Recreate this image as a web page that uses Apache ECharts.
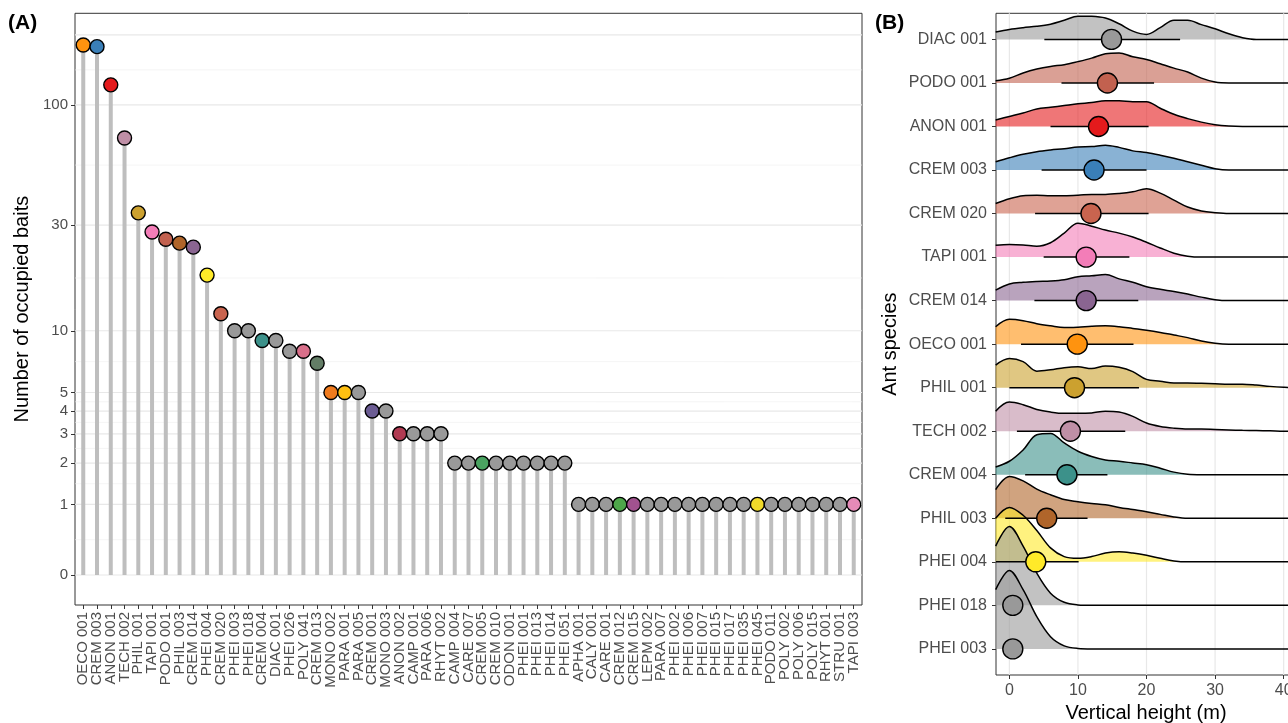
<!DOCTYPE html>
<html>
<head>
<meta charset="utf-8">
<script src="https://cdn.jsdelivr.net/npm/echarts@6/dist/echarts.min.js"></script>
<style>
html, body { margin: 0; padding: 0; background: #fff; }
#chart { width: 1288px; height: 723px; }
</style>
</head>
<body>
<div id="chart"></div>
<script>
// ---- panel A : occupied baits per species ----
const speciesA = ['OECO 001', 'CREM 003', 'ANON 001', 'TECH 002', 'PHIL 001', 'TAPI 001', 'PODO 001', 'PHIL 003',
  'CREM 014', 'PHEI 004', 'CREM 020', 'PHEI 003', 'PHEI 018', 'CREM 004', 'DIAC 001', 'PHEI 026', 'POLY 041',
  'CREM 013', 'MONO 002', 'PARA 001', 'PARA 005', 'CREM 001', 'MONO 003', 'ANON 002', 'CAMP 001', 'PARA 006',
  'RHYT 002', 'CAMP 004', 'CARE 007', 'CREM 005', 'CREM 010', 'ODON 001', 'PHEI 001', 'PHEI 013', 'PHEI 014',
  'PHEI 051', 'APHA 001', 'CALY 001', 'CARE 001', 'CREM 012', 'CREM 015', 'LEPM 002', 'PARA 007', 'PHEI 002',
  'PHEI 006', 'PHEI 007', 'PHEI 015', 'PHEI 017', 'PHEI 035', 'PHEI 045', 'PODO 011', 'POLY 002', 'POLY 006',
  'POLY 015', 'RHYT 001', 'STRU 001', 'TAPI 003']
const baitCounts = [181, 178, 122, 72, 34, 28, 26, 25, 24, 18, 12, 10, 10, 9, 9, 8, 8, 7, 5, 5, 5, 4, 4, 3, 3, 3, 3,
  2, 2, 2, 2, 2, 2, 2, 2, 2,
  1, 1, 1, 1, 1, 1, 1, 1, 1, 1, 1, 1, 1, 1, 1, 1, 1, 1, 1, 1, 1]
const countBreaks = [0, 1, 2, 3, 4, 5, 10, 30, 100]
const countGrid = [0, 1, 2, 3, 4, 5, 10, 30, 100, 200]

const G = '#999999'
const colorsA = ['#FF930F', '#3A7FB8', '#E41A1C', '#BF8FA6', '#CCA12F', '#F37DB8', '#C2614F', '#B0652A',
  '#8A6591', '#FFEA29', '#C9644F', G, G, '#3C918A', G, G, '#D96F8A',
  '#637D66', '#F07B1E', '#FFC012', G, '#6B5C93', G, '#B03A52', G, G,
  G, G, G, '#4AA361', G, G, G, G, G,
  G, G, G, G, '#4EA64A', '#A2528F', G, G, G,
  G, G, G, G, G, '#F0DA2A', G, G, G,
  G, G, G, '#E58BB8']

// ---- panel B : vertical height distribution (top row first) ----
const speciesB = ['DIAC 001', 'PODO 001', 'ANON 001', 'CREM 003', 'CREM 020', 'TAPI 001', 'CREM 014', 'OECO 001',
  'PHIL 001', 'TECH 002', 'CREM 004', 'PHIL 003', 'PHEI 004', 'PHEI 018', 'PHEI 003']
const heightGrid = [-2, 0, 2, 4, 6, 8, 10, 12, 14, 16, 18, 20, 22, 24, 26, 28, 30, 32, 34, 36, 38, 40, 42, 44]
const ridgeHeights = [
  [0.17, 0.23, 0.27, 0.30, 0.35, 0.44, 0.535, 0.53, 0.49, 0.36, 0.19, 0.115, 0.27, 0.44, 0.44, 0.34, 0.245, 0.13, 0.04, 0, 0, 0, 0, 0], // DIAC 001
  [0.05, 0.11, 0.23, 0.32, 0.38, 0.42, 0.49, 0.57, 0.67, 0.69, 0.60, 0.54, 0.44, 0.34, 0.25, 0.11, 0.02, 0, 0, 0, 0, 0, 0, 0], // PODO 001
  [0.15, 0.23, 0.31, 0.40, 0.44, 0.48, 0.52, 0.55, 0.59, 0.59, 0.57, 0.57, 0.42, 0.28, 0.18, 0.10, 0.04, 0.01, 0, 0, 0, 0, 0, 0], // ANON 001
  [0.19, 0.28, 0.36, 0.42, 0.46, 0.49, 0.53, 0.54, 0.57, 0.52, 0.44, 0.40, 0.34, 0.27, 0.19, 0.11, 0.03, 0, 0, 0, 0, 0, 0, 0], // CREM 003
  [0.23, 0.34, 0.41, 0.42, 0.41, 0.41, 0.42, 0.44, 0.44, 0.46, 0.50, 0.57, 0.47, 0.31, 0.15, 0.06, 0.02, 0, 0, 0, 0, 0, 0, 0], // CREM 020
  [0.27, 0.29, 0.28, 0.25, 0.33, 0.55, 0.78, 0.71, 0.62, 0.55, 0.46, 0.34, 0.21, 0.09, 0.02, 0, 0, 0, 0, 0, 0, 0, 0, 0], // TAPI 001
  [0.24, 0.38, 0.42, 0.44, 0.45, 0.48, 0.55, 0.57, 0.60, 0.50, 0.42, 0.32, 0.26, 0.21, 0.15, 0.08, 0.02, 0, 0, 0, 0, 0, 0, 0], // CREM 014
  [0.40, 0.57, 0.54, 0.47, 0.42, 0.38, 0.39, 0.41, 0.42, 0.40, 0.36, 0.32, 0.27, 0.21, 0.15, 0.07, 0.02, 0, 0, 0, 0, 0, 0, 0], // OECO 001
  [0.52, 0.67, 0.60, 0.38, 0.41, 0.46, 0.48, 0.44, 0.50, 0.47, 0.37, 0.19, 0.15, 0.11, 0.11, 0.10, 0.09, 0.08, 0.08, 0.06, 0.03, 0.01, 0, 0], // PHIL 001
  [0.46, 0.67, 0.61, 0.50, 0.44, 0.41, 0.41, 0.42, 0.46, 0.44, 0.34, 0.19, 0.11, 0.07, 0.05, 0.05, 0.04, 0.03, 0.02, 0.015, 0.01, 0, 0, 0], // TECH 002
  [0.18, 0.31, 0.57, 0.92, 0.95, 0.73, 0.54, 0.42, 0.34, 0.31, 0.27, 0.23, 0.15, 0.06, 0.01, 0, 0, 0, 0, 0, 0, 0, 0, 0], // CREM 004
  [0.66, 0.96, 0.86, 0.67, 0.54, 0.43, 0.38, 0.34, 0.31, 0.25, 0.20, 0.15, 0.09, 0.03, 0, 0, 0, 0, 0, 0, 0, 0, 0, 0], // PHIL 003
  [1.00, 1.25, 1.07, 0.72, 0.32, 0.12, 0.08, 0.12, 0.20, 0.23, 0.20, 0.15, 0.08, 0.02, 0, 0, 0, 0, 0, 0, 0, 0, 0, 0], // PHEI 004
  [1.36, 1.81, 1.36, 0.74, 0.28, 0.07, 0.01, 0, 0, 0, 0, 0, 0, 0, 0, 0, 0, 0, 0, 0, 0, 0, 0, 0], // PHEI 018
  [1.36, 1.80, 1.36, 0.74, 0.28, 0.07, 0.01, 0, 0, 0, 0, 0, 0, 0, 0, 0, 0, 0, 0, 0, 0, 0, 0, 0] // PHEI 003
]
const meanHeight = [14.9, 14.3, 13.0, 12.35, 11.9, 11.2, 11.2, 9.9, 9.5, 8.9, 8.4, 5.45, 3.85, 0.5, 0.5]
const lowHeight = [5.1, 7.6, 6.0, 4.7, 3.75, 5.0, 3.65, 1.7, 0.0, 1.1, 2.3, -0.6, -2.5, 0.3, 0.3]
const highHeight = [24.9, 21.1, 20.3, 20.0, 20.3, 17.5, 18.8, 18.1, 18.9, 16.9, 14.3, 11.4, 10.1, 0.7, 0.7]
const heightBreaks = [0, 10, 20, 30, 40]
const colorsB = ['#999999', '#C2614F', '#E41A1C', '#3A7FB8', '#C9644F', '#F37DB8', '#8A6591', '#FF930F',
  '#CCA12F', '#BF8FA6', '#3C918A', '#B0652A', '#FFEA29', '#999999', '#999999']

const tr = v => Math.log10(v + 1)
const nRows = speciesB.length

const chart = echarts.init(document.getElementById('chart'))

// grey background lines, drawn by a custom series so they can sit at arbitrary values
function hLines (color, width) {
  return function (params, api) {
    const cs = params.coordSys
    const y = api.coord([0, api.value(1)])[1]
    return { type: 'line', shape: { x1: cs.x, y1: y, x2: cs.x + cs.width, y2: y }, style: { stroke: color, lineWidth: width } }
  }
}
function vLines (color, width) {
  return function (params, api) {
    const cs = params.coordSys
    const x = api.coord([api.value(0), 1])[0]
    return { type: 'line', shape: { x1: x, y1: cs.y, x2: x, y2: cs.y + cs.height }, style: { stroke: color, lineWidth: width } }
  }
}

const majorT = countGrid.map(tr)
const minorT = majorT.slice(1).map((v, i) => (v + majorT[i]) / 2)

const series = [
  { type: 'custom', xAxisIndex: 0, yAxisIndex: 0, silent: true, z: 0, renderItem: hLines('#EFEFEF', 0.6), data: minorT.map(v => [0, v]) },
  { type: 'custom', xAxisIndex: 0, yAxisIndex: 0, silent: true, z: 0, renderItem: hLines('#E8E8E8', 1.2), data: majorT.map(v => [0, v]) },
  {
    type: 'bar', xAxisIndex: 0, yAxisIndex: 0, barWidth: 4, z: 1,
    itemStyle: { color: '#BEBEBE' },
    data: baitCounts.map((c, i) => [i, tr(c)])
  },
  {
    type: 'scatter', xAxisIndex: 0, yAxisIndex: 0, symbolSize: 14, z: 2,
    itemStyle: { color: p => colorsA[p.dataIndex], borderColor: '#000', borderWidth: 1.4, opacity: 1 },
    data: baitCounts.map((c, i) => [i, tr(c)])
  },
  { type: 'custom', xAxisIndex: 1, yAxisIndex: 1, silent: true, z: 0, renderItem: vLines('#E8E8E8', 1.2), data: heightBreaks.map(v => [v, 1]) }
]

// ridges: top row first so lower rows are painted over
speciesB.forEach((name, r) => {
  const base = nRows - r
  series.push({
    type: 'line', name: name, xAxisIndex: 1, yAxisIndex: 1, z: 1,
    smooth: 0.35, symbol: 'none', silent: true,
    lineStyle: { color: '#000', width: 1.5 },
    areaStyle: { color: colorsB[r], opacity: 0.6, origin: base },
    data: heightGrid.map((x, k) => [x, base + ridgeHeights[r][k]])
  })
})

series.push({
  type: 'custom', xAxisIndex: 1, yAxisIndex: 1, z: 3, clip: true,
  renderItem: function (params, api) {
    const a = api.coord([api.value(0), api.value(2)])
    const b = api.coord([api.value(1), api.value(2)])
    return { type: 'line', shape: { x1: a[0], y1: a[1], x2: b[0], y2: b[1] }, style: { stroke: '#000', lineWidth: 1.5 } }
  },
  data: speciesB.map((s, r) => [lowHeight[r], highHeight[r], nRows - r])
})
series.push({
  type: 'scatter', xAxisIndex: 1, yAxisIndex: 1, symbolSize: 20, z: 4,
  itemStyle: { color: p => colorsB[p.dataIndex], borderColor: '#000', borderWidth: 1.4, opacity: 1 },
  data: speciesB.map((s, r) => [meanHeight[r], nRows - r])
})

const tickStyle = { show: true, length: 4, lineStyle: { color: '#333', width: 1 } }
const noLine = { show: false, onZero: false }
const labelColor = '#4D4D4D'

// panel A species names are split over two stacked axes (even / odd positions)
// so that neighbouring rotated labels never compete and none get dropped
const idxA = speciesA.map((s, i) => i)
function speciesAxis (parity, withTicks) {
  return {
    type: 'value', gridIndex: 0, min: -0.6, max: 56.6, position: 'bottom', offset: 0,
    axisLine: noLine, splitLine: { show: false },
    axisTick: withTicks ? Object.assign({ customValues: idxA }, tickStyle) : { show: false },
    axisLabel: {
      customValues: idxA.filter(i => i % 2 === parity),
      formatter: v => speciesA[Math.round(v)],
      rotate: 90, fontSize: 15, color: labelColor, margin: 7,
      showMinLabel: true, showMaxLabel: true, hideOverlap: false
    }
  }
}

chart.setOption({
  animation: false,
  textStyle: { fontFamily: 'Liberation Sans, Arial, sans-serif' },
  graphic: [
    { type: 'text', left: 8, top: 13, style: { text: '(A)', font: 'bold 21px Liberation Sans', fill: '#000' } },
    { type: 'text', left: 875, top: 13, style: { text: '(B)', font: 'bold 21px Liberation Sans', fill: '#000' } }
  ],
  grid: [
    { left: 75, top: 13.3, width: 787, height: 591.7, show: true, borderColor: '#333', borderWidth: 1, backgroundColor: 'transparent', outerBoundsMode: 'none' },
    { left: 996, top: 13.3, width: 300, height: 661.7, show: true, borderColor: '#333', borderWidth: 1, backgroundColor: 'transparent', outerBoundsMode: 'none' }
  ],
  xAxis: [
    speciesAxis(0, true),
    {
      type: 'value', gridIndex: 1, min: -1.95, max: 41.8,
      axisLine: noLine, splitLine: { show: false },
      axisTick: Object.assign({ customValues: heightBreaks }, tickStyle),
      axisLabel: { customValues: heightBreaks, fontSize: 16, color: labelColor, margin: 8, showMinLabel: true, showMaxLabel: true },
      name: 'Vertical height (m)', nameLocation: 'middle', nameGap: 28,
      nameTextStyle: { fontSize: 20, color: '#000' }
    },
    speciesAxis(1, false)
  ],
  yAxis: [
    {
      type: 'value', gridIndex: 0, min: -0.128, max: 2.395,
      axisLine: noLine, splitLine: { show: false },
      axisTick: Object.assign({ customValues: countBreaks.map(tr) }, tickStyle),
      axisLabel: {
        customValues: countBreaks.map(tr),
        formatter: v => String(Math.round(Math.pow(10, v) - 1)),
        fontSize: 15, color: labelColor, margin: 7, showMinLabel: true, showMaxLabel: true
      },
      name: 'Number of occupied baits', nameLocation: 'middle', nameGap: 38,
      nameTextStyle: { fontSize: 20, color: '#000' }
    },
    {
      type: 'value', gridIndex: 1, min: 0.4, max: 15.6,
      axisLine: noLine, splitLine: { show: false },
      axisTick: Object.assign({ customValues: speciesB.map((s, r) => nRows - r) }, tickStyle),
      axisLabel: {
        customValues: speciesB.map((s, r) => nRows - r),
        formatter: v => speciesB[nRows - Math.round(v)],
        fontSize: 16, color: labelColor, margin: 9, showMinLabel: true, showMaxLabel: true
      },
      name: 'Ant species', nameLocation: 'middle', nameGap: 96,
      nameTextStyle: { fontSize: 20, color: '#000' }
    }
  ],
  series: series
})
</script>
</body>
</html>
